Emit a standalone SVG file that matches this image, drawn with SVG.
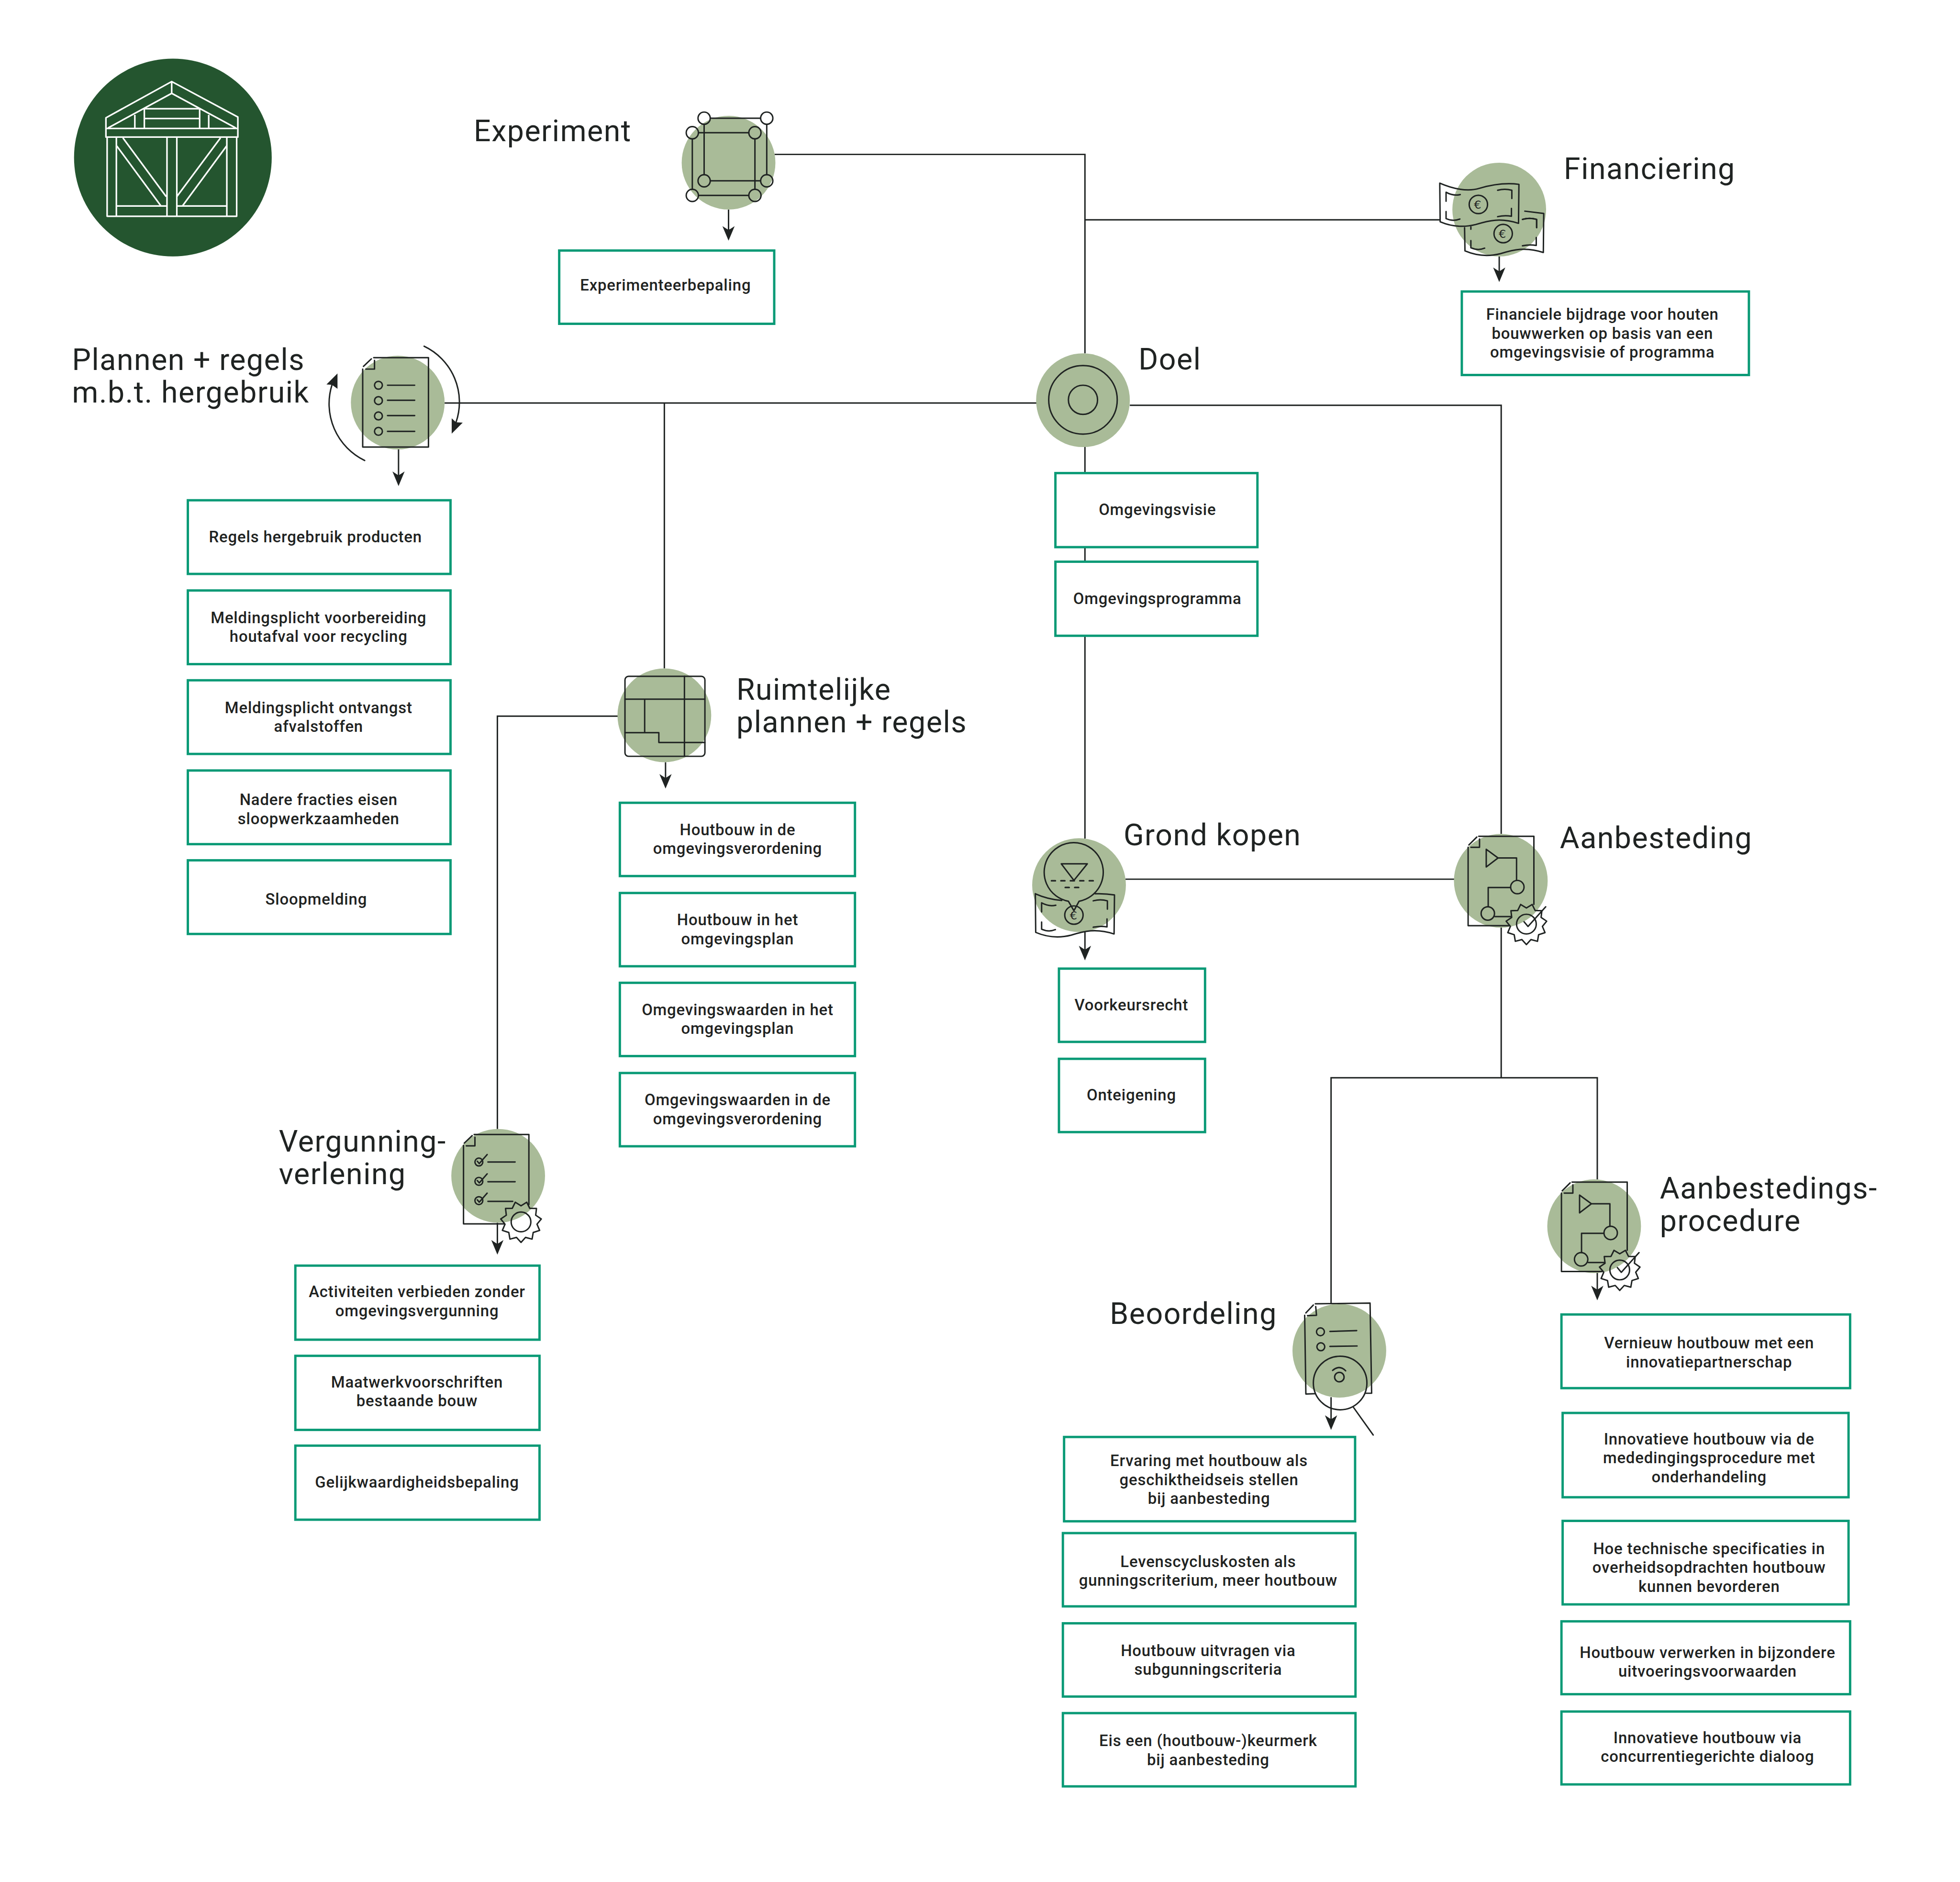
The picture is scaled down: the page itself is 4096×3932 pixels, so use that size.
<svg xmlns="http://www.w3.org/2000/svg" xmlns:xlink="http://www.w3.org/1999/xlink" width="4096" height="3932" viewBox="0 0 4096 3932">
<style>
.c{fill:none;stroke:#1f2322;stroke-width:3.6}
.a{marker-end:url(#arr)}
.i{fill:none;stroke:#1f2322;stroke-width:3.6;stroke-linecap:round;stroke-linejoin:round}
.bg{fill:#a9bb98}
.b{fill:#fff;stroke:#0a9a76;stroke-width:6}
.t{font-family:Roboto,"Liberation Sans",sans-serif;font-weight:500;font-size:40px;letter-spacing:1px;fill:#1f2322;text-anchor:middle}
.h{font-family:Roboto,"Liberation Sans",sans-serif;font-weight:400;font-size:76px;letter-spacing:1.9px;fill:#1f2322}
.e{font-family:"DejaVu Sans",sans-serif;font-size:29px;fill:#1f2322;text-anchor:middle}
.l{fill:none;stroke:#fff;stroke-width:4;stroke-linejoin:round}
.k{fill:#1f2322}
</style>
<defs>
<marker id="arr" markerUnits="userSpaceOnUse" markerWidth="38" markerHeight="32" refX="29" refY="15.5" viewBox="0 0 38 31" orient="auto"><path d="M0 0L37 15.5L0 31L10 15.5Z" fill="#1f2322"/></marker>
<g id="inner-bill"><path d="M16 72V90Q34 98 51 91M147 18Q165 13 183 18V39M147 85Q165 81 182 84V64"/><circle cx="98" cy="54" r="23.3"/></g>
<g id="gear"><path d="M0 52L-11.500 39.300L-28.100 43.700L-31 26.900L-47.300 21.600L-40.600 5.800L-51.500 -7.400L-37.300 -17L-39.300 -34.100L-22.200 -34.500L-14.600 -49.900L0 -41L14.600 -49.900L22.200 -34.500L39.300 -34.100L37.300 -17L51.500 -7.400L40.600 5.800L47.300 21.600L31 26.900L28.100 43.700L11.500 39.300Z"/><circle r="25"/></g>
<g id="process-doc"><path d="M27 0H167V173M103 227H0V28M2 22L22 2M29 7V28H7M46 33V78L76 55ZM76 55H123V112M107 130H51V179M68 204H109M142 217L152 229L197 179"/><circle cx="125" cy="129" r="17"/><circle cx="50" cy="196" r="17"/><use xlink:href="#gear" href="#gear" x="148" y="223"/></g>
</defs>
<g transform="scale(0.82298)">
<g id="connectors">
<path class="c" d="M1967 392H2755V897"/>
<path class="c" d="M2755 558H3656"/>
<path class="c" d="M1129 1023H2632"/>
<path class="c" d="M1687 1023V1697"/>
<path class="c" d="M2869 1029H3812V2117"/>
<path class="c" d="M2755 1134V2129"/>
<path class="c" d="M2858 2232H3693"/>
<path class="c" d="M3812 2355V2736M3380 3310V2736H4056V2994"/>
<path class="c" d="M1569 1818H1263V2866"/>
<path class="c a" d="M1850 532V603"/>
<path class="c a" d="M3807 651V708"/>
<path class="c a" d="M1012 1141V1226"/>
<path class="c a" d="M1690 1935V1994"/>
<path class="c a" d="M2755 2366V2430"/>
<path class="c a" d="M1263 3104V3177"/>
<path class="c a" d="M3380 3547V3622"/>
<path class="c a" d="M4056 3231V3293"/>
</g>
<g id="logo">
<circle cx="439" cy="400" r="251" fill="#24552f"/>
<path class="l" d="M269 326V299L436 207L604 297V326M436 207V237M274 325L436 237L599 325M269 326H604V348H269ZM272 348V549H601V348M295.500 348V549M424 348V549M449 348V549M576 348V549M296 523H424M449 523H576M366.500 276H507M366.500 301H507M366.500 276V326M507 276V326M342.400 291.500V326M530 291.500V326M296.500 370.600L408 522M312 350L422 499M575.400 370.600L464 522M560 350L449 499"/>
</g>
<g id="node-experiment">
<circle class="bg" cx="1850" cy="413" r="119"/>
<g class="i"><circle cx="1788" cy="300" r="15.500"/><circle cx="1947" cy="300" r="15.500"/><circle cx="1947" cy="459" r="15.500"/><circle cx="1788" cy="459" r="15.500"/><circle cx="1758" cy="337" r="15.500"/><circle cx="1917" cy="337" r="15.500"/><circle cx="1917" cy="496" r="15.500"/><circle cx="1758" cy="496" r="15.500"/>
<path d="M1804 300H1931M1947 316V443M1931 459H1804M1788 443V316M1774 337H1901M1917 353V480M1901 496H1774M1758 480V353"/></g>
<text class="h" x="1203" y="359">Experiment</text>
<rect class="b" x="1420" y="636" width="546" height="186"/>
<text class="t" x="1690" y="737">Experimenteerbepaling</text>
</g>
<g id="node-financiering">
<circle class="bg" cx="3807" cy="532" r="119"/>
<g class="i" transform="translate(3656 465)"><path d="M0 0C34 15 71 22 101 13C135 3 170 -1 201 3L200 102C154 87 124 95 91 105C64 112 34 112 1 98ZM16 46V23Q34 33 52 29"/><use xlink:href="#inner-bill" href="#inner-bill"/></g>
<g class="i" transform="translate(3719 539)"><path d="M153 -3L201 3L200 102C154 87 124 95 91 105C64 112 34 112 1 98L0 39M16 37V43M147 18Q165 13 183 18V39"/><use xlink:href="#inner-bill" href="#inner-bill"/></g>
<text class="e" x="3752" y="530">€</text><text class="e" x="3815" y="604">€</text>
<text class="h" x="3971" y="454">Financiering</text>
<rect class="b" x="3712" y="740" width="729" height="212"/>
<text class="t" x="4069" y="812">Financiele bijdrage voor houten</text>
<text class="t" x="4069" y="860">bouwwerken op basis van een</text>
<text class="t" x="4069" y="908">omgevingsvisie of programma</text>
</g>
<g id="node-doel">
<circle class="bg" cx="2750" cy="1016" r="119"/>
<g class="i"><circle cx="2750" cy="1015" r="87"/><circle cx="2750" cy="1015" r="37"/></g>
<text class="h" x="2891" y="938">Doel</text>
<rect class="b" x="2680" y="1201" width="513" height="188"/>
<text class="t" x="2939" y="1308">Omgevingsvisie</text>
<rect class="b" x="2680" y="1426" width="513" height="188"/>
<text class="t" x="2939" y="1533">Omgevingsprogramma</text>
</g>
<g id="node-plannen">
<circle class="bg" cx="1010" cy="1022" r="119"/>
<g class="i"><path d="M949 908H1088V1135H921V937M923 930L943 911M951 915V937H929"/><circle cx="961" cy="978" r="10"/><circle cx="961" cy="1017" r="10"/><circle cx="961" cy="1056" r="10"/><circle cx="961" cy="1095" r="10"/><path d="M984 978H1053M984 1016H1053M984 1055H1053M984 1095H1053"/>
<path d="M1077 879A157 157 0 0 1 1158 1072M926 1169A160 160 0 0 1 843 977"/></g>
<path class="k" d="M1147 1101L1147 1062L1158 1072L1175 1073ZM857 948L829 976L843 977L857 987Z"/>
<text class="h" x="183" y="939">Plannen + regels</text>
<text class="h" x="183" y="1022">m.b.t. hergebruik</text>
<rect class="b" x="477" y="1270" width="667" height="187"/>
<text class="t" x="801" y="1377">Regels hergebruik producten</text>
<rect class="b" x="477" y="1499" width="667" height="187"/>
<text class="t" x="809" y="1582">Meldingsplicht voorbereiding</text>
<text class="t" x="809" y="1630">houtafval voor recycling</text>
<rect class="b" x="477" y="1727" width="667" height="187"/>
<text class="t" x="809" y="1810">Meldingsplicht ontvangst</text>
<text class="t" x="809" y="1858">afvalstoffen</text>
<rect class="b" x="477" y="1956" width="667" height="187"/>
<text class="t" x="809" y="2044">Nadere fracties eisen</text>
<text class="t" x="809" y="2092">sloopwerkzaamheden</text>
<rect class="b" x="477" y="2184" width="667" height="187"/>
<text class="t" x="803" y="2296">Sloopmelding</text>
</g>
<g id="node-ruimtelijke">
<circle class="bg" cx="1687" cy="1816" r="119"/>
<g class="i"><rect x="1587" y="1717" width="203" height="203" rx="9"/><path d="M1587 1775H1790M1738 1717V1920M1637 1775V1860M1587 1860H1673V1885H1790"/></g>
<text class="h" x="1870" y="1776">Ruimtelijke</text>
<text class="h" x="1870" y="1859">plannen + regels</text>
<rect class="b" x="1574" y="2038" width="597" height="186"/>
<text class="t" x="1873" y="2120">Houtbouw in de</text>
<text class="t" x="1873" y="2168">omgevingsverordening</text>
<rect class="b" x="1574" y="2267" width="597" height="186"/>
<text class="t" x="1873" y="2349">Houtbouw in het</text>
<text class="t" x="1873" y="2397">omgevingsplan</text>
<rect class="b" x="1574" y="2495" width="597" height="186"/>
<text class="t" x="1873" y="2577">Omgevingswaarden in het</text>
<text class="t" x="1873" y="2625">omgevingsplan</text>
<rect class="b" x="1574" y="2724" width="597" height="186"/>
<text class="t" x="1873" y="2806">Omgevingswaarden in de</text>
<text class="t" x="1873" y="2854">omgevingsverordening</text>
</g>
<g id="node-grond">
<circle class="bg" cx="2740" cy="2247" r="119"/>
<g class="i"><g transform="translate(2629 2269)"><path d="M0 0C22 10 44 15 67 17M152 0Q177 -1 201 3L200 102C154 87 124 95 91 105C64 112 34 112 1 98L0 0M16 46V23Q34 33 52 29"/><use xlink:href="#inner-bill" href="#inner-bill"/></g>
<path d="M2713 2288L2727 2312L2740 2288A75 75 0 1 0 2713 2288ZM2695 2193H2761L2727 2235Z"/><path d="M2670 2236H2783M2705 2253H2750" stroke-dasharray="10 14" stroke-width="4"/></g>
<text class="e" x="2726" y="2334">€</text>
<text class="h" x="2853" y="2146">Grond kopen</text>
<rect class="b" x="2689" y="2459" width="371" height="186"/>
<text class="t" x="2873" y="2565">Voorkeursrecht</text>
<rect class="b" x="2689" y="2688" width="371" height="186"/>
<text class="t" x="2873" y="2794">Onteigening</text>
</g>
<g id="node-aanbesteding">
<circle class="bg" cx="3811" cy="2236" r="119"/>
<use class="i" xlink:href="#process-doc" href="#process-doc" x="3728" y="2123"/>
<text class="h" x="3961" y="2153">Aanbesteding</text>
</g>
<g id="node-vergunning">
<circle class="bg" cx="1265" cy="2985" r="119"/>
<g class="i"><path d="M1204 2880H1343V3058M1280 3107H1177V2908M1179 2902L1199 2883M1206 2887V2909H1184"/><circle cx="1216" cy="2950" r="10"/><circle cx="1216" cy="2999" r="10"/><circle cx="1216" cy="3048" r="10"/><path d="M1212 2948L1217 2954L1237 2931M1212 2997L1217 3003L1237 2980M1212 3046L1217 3052L1237 3029M1239 2950H1308M1239 3000H1308M1239 3050H1302"/><use xlink:href="#gear" href="#gear" x="1323" y="3102"/></g>
<text class="h" x="708" y="2923">Vergunning-</text>
<text class="h" x="708" y="3006">verlening</text>
<rect class="b" x="750" y="3213" width="620" height="188"/>
<text class="t" x="1059" y="3293">Activiteiten verbieden zonder</text>
<text class="t" x="1059" y="3341">omgevingsvergunning</text>
<rect class="b" x="750" y="3442" width="620" height="188"/>
<text class="t" x="1059" y="3522">Maatwerkvoorschriften</text>
<text class="t" x="1059" y="3570">bestaande bouw</text>
<rect class="b" x="750" y="3670" width="620" height="188"/>
<text class="t" x="1059" y="3777">Gelijkwaardigheidsbepaling</text>
</g>
<g id="node-beoordeling">
<circle class="bg" cx="3401" cy="3429" r="119"/>
<g class="i"><path d="M3340 3310L3479 3308L3483 3537H3468M3340 3538L3316 3539L3313 3339M3316 3333L3335 3313M3341 3317L3343 3339L3320 3340"/><circle cx="3353" cy="3381" r="10"/><circle cx="3354" cy="3419" r="10"/><path d="M3377 3380L3445 3378M3377 3418L3446 3417"/><circle cx="3403" cy="3511" r="68"/><path d="M3437 3573L3487 3643"/><circle cx="3401" cy="3496" r="12"/><path d="M3384 3479Q3401 3464 3417 3480"/></g>
<text class="h" x="2818" y="3361">Beoordeling</text>
<rect class="b" x="2702" y="3648" width="739" height="214"/>
<text class="t" x="3070" y="3722">Ervaring met houtbouw als</text>
<text class="t" x="3070" y="3770">geschiktheidseis stellen</text>
<text class="t" x="3070" y="3818">bij aanbesteding</text>
<rect class="b" x="2699" y="3892" width="743" height="186"/>
<text class="t" x="3068" y="3978">Levenscycluskosten als</text>
<text class="t" x="3068" y="4026">gunningscriterium, meer houtbouw</text>
<rect class="b" x="2699" y="4121" width="743" height="186"/>
<text class="t" x="3068" y="4204">Houtbouw uitvragen via</text>
<text class="t" x="3068" y="4252">subgunningscriteria</text>
<rect class="b" x="2699" y="4349" width="743" height="186"/>
<text class="t" x="3068" y="4433">Eis een (houtbouw-)keurmerk</text>
<text class="t" x="3068" y="4481">bij aanbesteding</text>
</g>
<g id="node-procedure">
<circle class="bg" cx="4048" cy="3113" r="119"/>
<use class="i" xlink:href="#process-doc" href="#process-doc" x="3965" y="3001"/>
<text class="h" x="4215" y="3042">Aanbestedings-</text>
<text class="h" x="4215" y="3125">procedure</text>
<rect class="b" x="3965" y="3337" width="733" height="187"/>
<text class="t" x="4340" y="3423">Vernieuw houtbouw met een</text>
<text class="t" x="4340" y="3471">innovatiepartnerschap</text>
<rect class="b" x="3968" y="3587" width="726" height="214"/>
<text class="t" x="4340" y="3667">Innovatieve houtbouw via de</text>
<text class="t" x="4340" y="3715">mededingingsprocedure met</text>
<text class="t" x="4340" y="3763">onderhandeling</text>
<rect class="b" x="3968" y="3861" width="726" height="212"/>
<text class="t" x="4340" y="3945">Hoe technische specificaties in</text>
<text class="t" x="4340" y="3993">overheidsopdrachten houtbouw</text>
<text class="t" x="4340" y="4041">kunnen bevorderen</text>
<rect class="b" x="3965" y="4116" width="733" height="185"/>
<text class="t" x="4336" y="4209">Houtbouw verwerken in bijzondere</text>
<text class="t" x="4336" y="4257">uitvoeringsvoorwaarden</text>
<rect class="b" x="3965" y="4345" width="733" height="185"/>
<text class="t" x="4336" y="4425">Innovatieve houtbouw via</text>
<text class="t" x="4336" y="4473">concurrentiegerichte dialoog</text>
</g>
</g>
</svg>
